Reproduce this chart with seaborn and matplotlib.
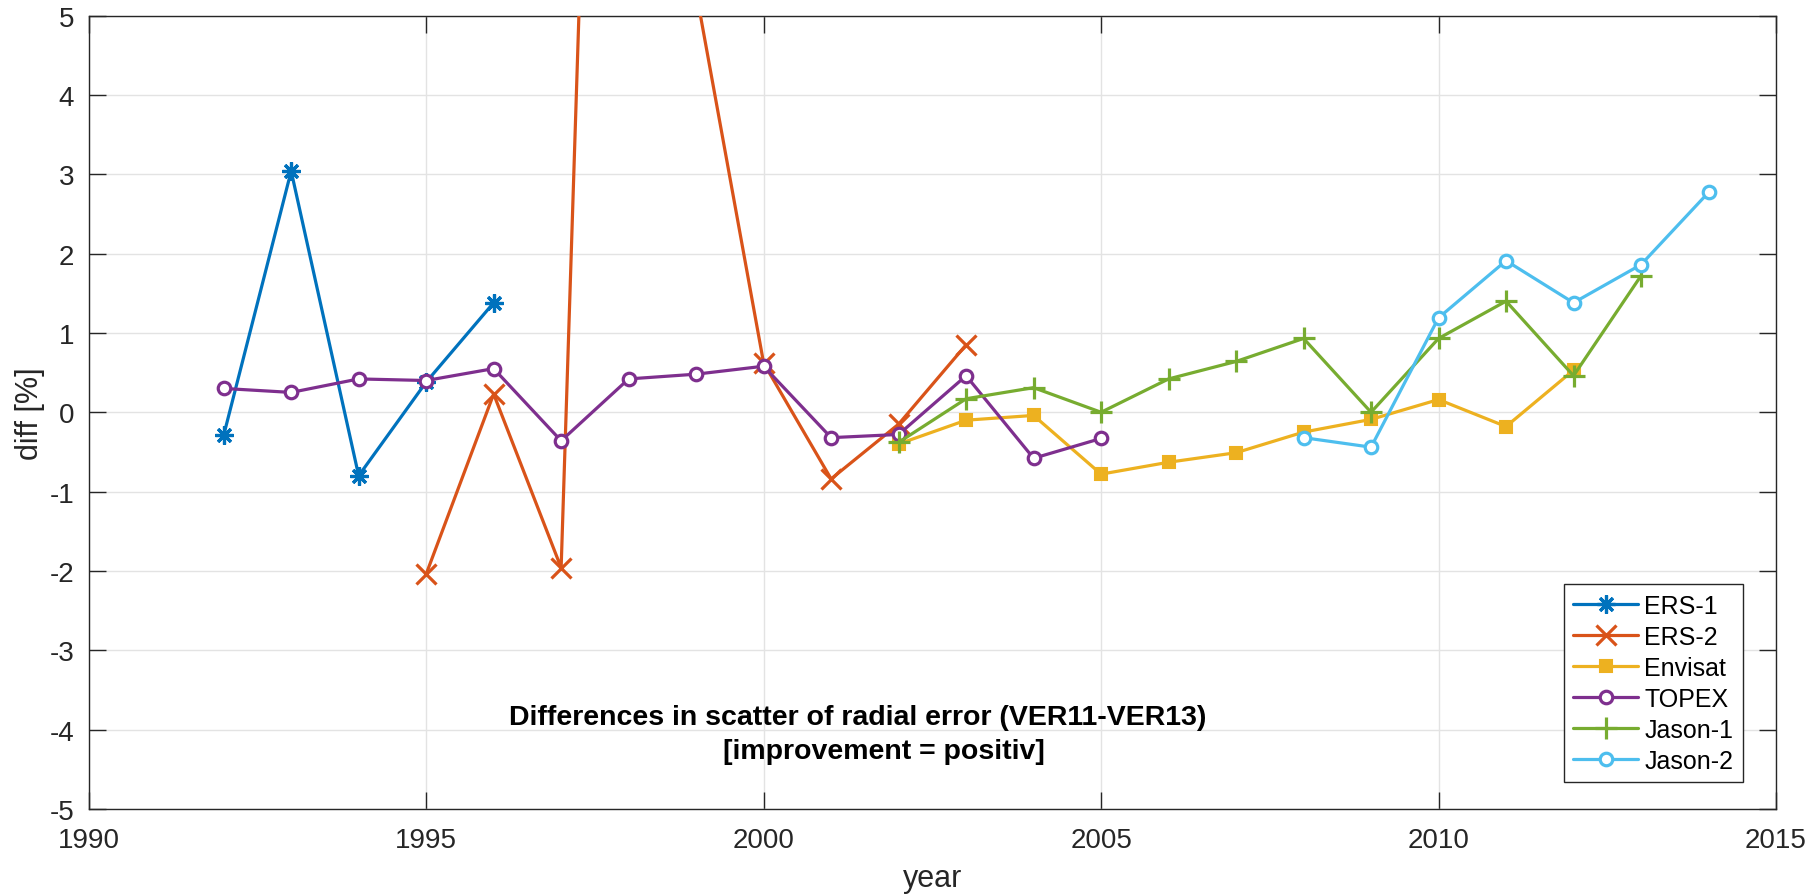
import matplotlib
matplotlib.use("Agg")
import matplotlib.pyplot as plt
import seaborn as sns
import numpy as np
import pandas as pd

# ---- data ----
ers1_years = [1992, 1993, 1994, 1995, 1996]
ers1_vals = [-0.29, 3.04, -0.80, 0.38, 1.38]

ers2_years = [1995, 1996, 1997, 1998, 1999, 2000, 2001, 2002, 2003]
ers2_vals = [-2.04, 0.23, -1.96, 24.5, 5.3, 0.62, -0.84, -0.15, 0.85]

envisat_years = [2002, 2003, 2004, 2005, 2006, 2007, 2008, 2009, 2010, 2011, 2012]
envisat_vals = [-0.40, -0.10, -0.04, -0.78, -0.63, -0.51, -0.25, -0.09, 0.16, -0.18, 0.53]

topex_years = [1992, 1993, 1994, 1995, 1996, 1997, 1998, 1999, 2000, 2001, 2002, 2003, 2004, 2005]
topex_vals = [0.30, 0.25, 0.42, 0.40, 0.55, -0.36, 0.42, 0.48, 0.58, -0.32, -0.28, 0.46, -0.58, -0.33]

jason1_years = [2002, 2003, 2004, 2005, 2006, 2007, 2008, 2009, 2010, 2011, 2012, 2013]
jason1_vals = [-0.38, 0.17, 0.31, 0.00, 0.42, 0.64, 0.93, 0.00, 0.93, 1.40, 0.46, 1.72]

jason2_years = [2008, 2009, 2010, 2011, 2012, 2013, 2014]
jason2_vals = [-0.32, -0.44, 1.19, 1.91, 1.38, 1.86, 2.77]

series_names = ["ERS-1", "ERS-2", "Envisat", "TOPEX", "Jason-1", "Jason-2"]
x_ticks = [1990, 1995, 2000, 2005, 2010, 2015]
y_ticks = [-5, -4, -3, -2, -1, 0, 1, 2, 3, 4, 5]
title_line1 = "Differences in scatter of radial error (VER11-VER13)"
title_line2 = "[improvement = positiv]"

# ---- style ----
sns.set_theme(style="ticks")
plt.rcParams["font.family"] = ["Liberation Sans", "DejaVu Sans"]
axcol = "#262626"

fig = plt.figure(figsize=(18.15, 8.95), dpi=100)
ax = fig.add_axes([0.04887, 0.09497, 0.92964, 0.88659])

styles = {
    "ERS-1": dict(color="#0072BD", marker=(8, 2, 0), ms=13, mfc="#0072BD", mew=2.3),
    "ERS-2": dict(color="#D95319", marker="x", ms=14, mfc="#D95319", mew=2.3),
    "Envisat": dict(color="#EDB120", marker="s", ms=8.5, mfc="#EDB120", mew=1.5),
    "TOPEX": dict(color="#7E2F8E", marker="o", ms=9, mfc="white", mew=2.3),
    "Jason-1": dict(color="#77AC30", marker="+", ms=16, mfc="#77AC30", mew=2.3),
    "Jason-2": dict(color="#4DBEEE", marker="o", ms=9, mfc="white", mew=2.3),
}
data = {
    "ERS-1": (ers1_years, ers1_vals),
    "ERS-2": (ers2_years, ers2_vals),
    "Envisat": (envisat_years, envisat_vals),
    "TOPEX": (topex_years, topex_vals),
    "Jason-1": (jason1_years, jason1_vals),
    "Jason-2": (jason2_years, jason2_vals),
}

for name in series_names:
    yrs, vals = data[name]
    df = pd.DataFrame({"year": yrs, "diff": vals})
    st = styles[name]
    sns.lineplot(data=df, x="year", y="diff", ax=ax, color=st["color"],
                 linewidth=2.3, marker=st["marker"], markersize=st["ms"],
                 markerfacecolor=st["mfc"], markeredgecolor=st["color"],
                 markeredgewidth=st["mew"], errorbar=None, label=name,
                 legend=False, zorder=3)

ax.set_xlim(1990, 2015)
ax.set_ylim(-5, 5)
ax.set_xticks(x_ticks)
ax.set_yticks(y_ticks)
ax.set_xticklabels([str(t) for t in x_ticks])
ax.set_yticklabels([str(t) for t in y_ticks])

ax.grid(True, color="#e3e3e3", linewidth=1.0, zorder=0)
ax.set_axisbelow(True)
for sp in ax.spines.values():
    sp.set_visible(True)
    sp.set_color(axcol)
    sp.set_linewidth(1.0)

ax.tick_params(axis="both", which="major", direction="in", length=12, width=1.0,
               color=axcol, labelcolor=axcol, labelsize=20,
               top=True, right=True, bottom=True, left=True)
ax.tick_params(axis="x", pad=13)
ax.tick_params(axis="y", pad=10.5)

ax.set_xlabel("year", fontsize=22, color=axcol, labelpad=7.5)
ax.set_ylabel("diff [%]", fontsize=22, color=axcol, labelpad=3.5)

ax.text(2001.39, -3.93, title_line1, ha="center", va="baseline",
        fontsize=20.5, fontweight="bold", color="black", zorder=5)
ax.text(2001.78, -4.36, title_line2, ha="center", va="baseline",
        fontsize=20.5, fontweight="bold", color="black", zorder=5)

handles, labels = ax.get_legend_handles_labels()
leg = ax.legend(handles, labels, loc="lower right", bbox_to_anchor=(0.9804, 0.034),
                borderaxespad=0, fontsize=18, frameon=True, fancybox=False,
                framealpha=1, edgecolor=axcol, handlelength=2.6,
                handletextpad=0.25, labelspacing=0.28, borderpad=0.38,
                numpoints=1)
leg.get_frame().set_linewidth(1.0)
for t in leg.get_texts():
    t.set_color("black")

fig.savefig("out.png", dpi=100, facecolor="white")
